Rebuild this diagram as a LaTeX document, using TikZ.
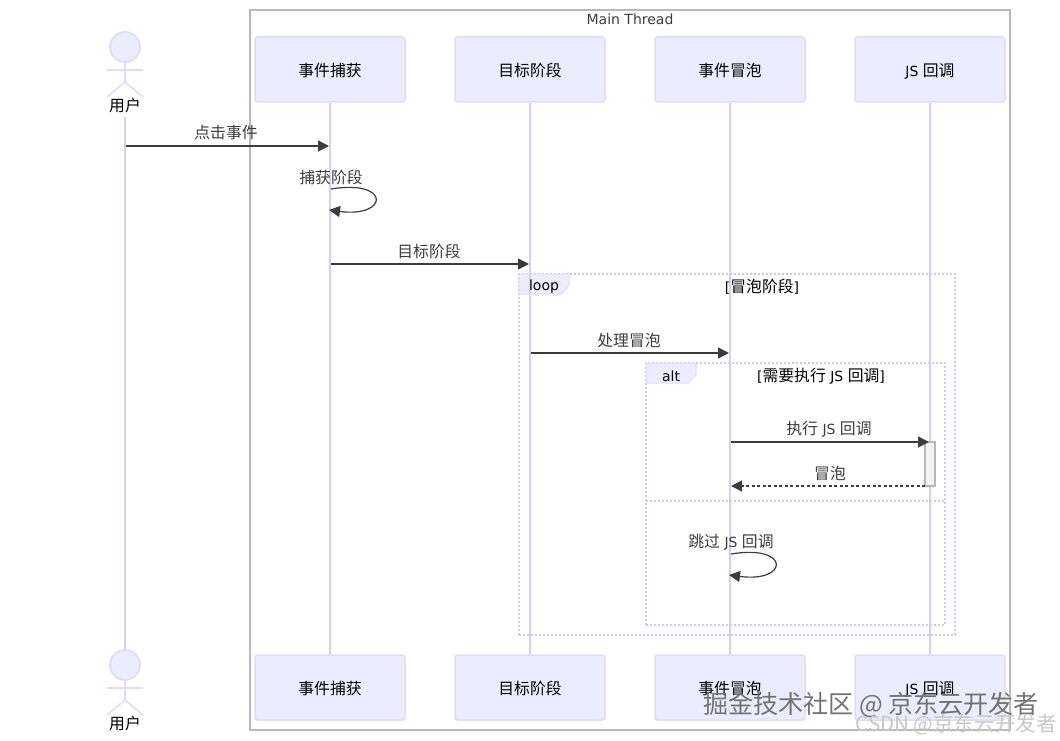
\documentclass[tikz,border=0pt]{standalone}
\usepackage{fontspec}
\usepackage{xcolor}
\setmainfont{DejaVu Sans}
\newfontfamily\cjk[Scale=1.13]{Noto Sans CJK SC}
\usetikzlibrary{arrows.meta,positioning,calc}
\definecolor{boxFill}{RGB}{236,236,255}
\definecolor{boxLine}{RGB}{224,220,245}
\definecolor{lifeLine}{RGB}{213,208,238}
\definecolor{frameGray}{RGB}{184,184,184}
\definecolor{msgDark}{RGB}{60,60,60}
\definecolor{dotLine}{RGB}{205,200,232}
\definecolor{activeFill}{RGB}{244,244,244}
\tikzset{
  actorbox/.style={draw=boxLine, line width=1.5pt, rounded corners=2.5pt, fill=boxFill, align=center, minimum width=150pt, minimum height=65pt, inner sep=0pt, text height=14pt, text depth=0pt, font=\fontsize{14}{17}\selectfont, text=black},
  actorhead/.style={draw=boxLine, line width=1.8pt, circle, fill=boxFill, minimum size=30pt, inner sep=0pt},
  actorlimb/.style={draw=boxLine, line width=1.5pt},
  actorname/.style={font=\fontsize{14}{18}\selectfont, text=black, inner sep=0pt},
  life/.style={draw=lifeLine, line width=1.6pt},
  msg/.style={draw=msgDark, line width=1.5pt, -{Triangle[length=11pt,width=11pt]}},
  dashmsg/.style={msg, dash pattern=on 3pt off 2.5pt},
  selfmsg/.style={draw=msgDark, line width=1.2pt, -{Triangle[length=11pt,width=11pt]}},
  msglabel/.style={font=\fontsize{14}{18}\selectfont, text=msgDark, inner sep=0pt},
  dotframe/.style={draw=dotLine, line width=1.5pt, dash pattern=on 2pt off 2pt},
  fragtab/.style={draw=boxLine, line width=1pt, fill=boxFill},
  fraglabel/.style={font=\fontsize{14}{17}\selectfont, text=black, inner sep=0pt},
  active/.style={draw=frameGray, line width=1.3pt, fill=activeFill, minimum width=10pt, minimum height=44pt, inner sep=0pt}
}
\newcommand{\zh}[1]{{\cjk #1}}
\newcommand{\stickman}[2]{%
  \node[actorhead] (#1) at (125,#2) {};
  \coordinate (#1arml) at ($(#1)+(-18,23)$);
  \coordinate (#1armr) at ($(#1)+(18,23)$);
  \coordinate (#1hip) at ($(#1)+(0,35)$);
  \coordinate (#1footl) at ($(#1)+(-18,50)$);
  \coordinate (#1footr) at ($(#1)+(18,50)$);
  \draw[actorlimb] (#1.south) -- (#1hip);
  \draw[actorlimb] (#1arml) -- (#1armr);
  \draw[actorlimb] (#1footl) -- (#1hip) -- (#1footr);
}
\begin{document}
\begin{tikzpicture}[x=1pt,y=-1pt]
  \useasboundingbox (0,0) rectangle (1060,741);
  \node[draw=frameGray, line width=1.5pt, minimum width=760pt, minimum height=720pt, inner sep=0pt] (thread) at (630,370) {};
  \node[fraglabel, text=msgDark] (threadname) at (630,19) {Main Thread};

  % fragments
  \node[dotframe, minimum width=436pt, minimum height=361pt, inner sep=0pt] (loopframe) at (737,454.5) {};
  \node[dotframe, minimum width=299pt, minimum height=262pt, inner sep=0pt] (altframe) at (795.5,494) {};
  \coordinate (altsplitl) at (646,501);
  \coordinate (altsplitr) at (945,501);
  \draw[dotframe] (altsplitl) -- (altsplitr);
  \draw[fragtab] (519,274) -- (569,274) -- (569,286) -- (561,294) -- (519,294) -- cycle;
  \draw[fragtab] (646,363) -- (696,363) -- (696,375) -- (688,383) -- (646,383) -- cycle;

  % participants
  \stickman{usertop}{47}
  \stickman{userend}{665}
  \node[actorname] (usertopname) at (125,105.5) {\zh{用户}};
  \node[actorname] (userendname) at (125,723.5) {\zh{用户}};
  \node[actorbox] (capture) at (330,69.5) {\zh{事件捕获}};
  \node[actorbox] (target) at (530,69.5) {\zh{目标阶段}};
  \node[actorbox] (bubble) at (730,69.5) {\zh{事件冒泡}};
  \node[actorbox] (jscall) at (930,69.5) {JS \zh{回调}};
  \node[actorbox] (captureend) at (330,687.5) {\zh{事件捕获}};
  \node[actorbox] (targetend) at (530,687.5) {\zh{目标阶段}};
  \node[actorbox] (bubbleend) at (730,687.5) {\zh{事件冒泡}};
  \node[actorbox] (jscallend) at (930,687.5) {JS \zh{回调}};

  \coordinate (userlife) at (125,117);
  \draw[life] (userlife) -- (userend.north);
  \draw[life] (capture.south) -- (captureend.north);
  \draw[life] (target.south) -- (targetend.north);
  \draw[life] (bubble.south) -- (bubbleend.north);
  \draw[life] (jscall.south) -- (jscallend.north);

  \node[fraglabel] (looptag) at (544,287) {loop};
  \node[fraglabel] (alttag) at (671,376) {alt};
  \node[fraglabel] (loopcond) at (762,287) {[\zh{冒泡阶段}]};
  \node[fraglabel] (altcond) at (821,376) {[\zh{需要执行} JS \zh{回调}]};

  \node[active] (jsactive) at (930,464) {};

  % messages
  \coordinate (clicka) at (126,146);
  \coordinate (clickb) at (329,146);
  \coordinate (goala) at (331,264);
  \coordinate (goalb) at (529,264);
  \coordinate (bubblea) at (531,353);
  \coordinate (bubbleb) at (729,353);
  \coordinate (runa) at (731,442);
  \coordinate (runb) at (929,442);
  \coordinate (backa) at (925,486);
  \coordinate (backb) at (731,486);
  \coordinate (selfa) at (331,189);
  \coordinate (selfb) at (329,210);
  \coordinate (skipa) at (731,554);
  \coordinate (skipb) at (729,575);
  \draw[msg] (clicka) -- (clickb);
  \draw[msg] (goala) -- (goalb);
  \draw[msg] (bubblea) -- (bubbleb);
  \draw[msg] (runa) -- (runb);
  \draw[dashmsg] (backa) -- (backb);
  \draw[selfmsg] (selfa) .. controls +(60,-10) and +(60,8) .. (selfb);
  \draw[selfmsg] (skipa) .. controls +(60,-10) and +(60,8) .. (skipb);

  \node[msglabel] (clicktext) at (226,133) {\zh{点击事件}};
  \node[msglabel] (capturetext) at (331,177) {\zh{捕获阶段}};
  \node[msglabel] (goaltext) at (429,251) {\zh{目标阶段}};
  \node[msglabel] (bubbletext) at (629,340) {\zh{处理冒泡}};
  \node[msglabel] (runtext) at (829,429) {\zh{执行} JS \zh{回调}};
  \node[msglabel] (backtext) at (830,473) {\zh{冒泡}};
  \node[msglabel] (skiptext) at (731,542) {\zh{跳过} JS \zh{回调}};

  % stamps
  \node[font=\fontsize{22.2}{28}\selectfont\cjk, text=black!55, inner sep=0pt] (stampone) at (871,705) {掘金技术社区 @ 京东云开发者};
  \node[font=\fontsize{18.2}{24}\selectfont\cjk, text=black!22, anchor=east, inner sep=0pt] (stamptwo) at (1057,725) {CSDN @京东云开发者};
\end{tikzpicture}
\end{document}
